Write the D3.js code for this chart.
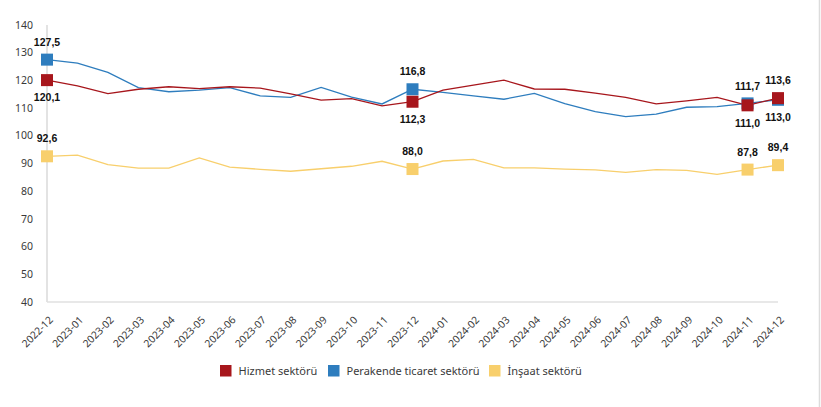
<!DOCTYPE html>
<html><head><meta charset="utf-8">
<script src="https://cdn.jsdelivr.net/npm/d3@7"></script>
<style>body{margin:0;background:#fff;}svg{display:block;}</style>
</head><body>
<svg id="c" width="821" height="407"></svg>
<script>
const months = ["2022-12","2023-01","2023-02","2023-03","2023-04","2023-05","2023-06","2023-07","2023-08","2023-09","2023-10","2023-11","2023-12","2024-01","2024-02","2024-03","2024-04","2024-05","2024-06","2024-07","2024-08","2024-09","2024-10","2024-11","2024-12"];
const hizmet = [120.1,118.0,115.2,116.8,117.7,117.0,117.7,117.2,115.1,112.9,113.4,110.8,112.3,116.5,118.3,120.1,116.9,116.8,115.4,113.9,111.5,112.6,113.9,111.0,113.6];
const perakende = [127.5,126.2,122.9,117.4,115.9,116.5,117.4,114.4,113.9,117.5,114.0,111.5,116.8,115.7,114.4,113.2,115.3,111.6,108.7,106.9,107.8,110.3,110.5,111.7,113.0];
const insaat = [92.6,93.0,89.6,88.3,88.3,92.0,88.7,87.9,87.2,88.1,89.0,90.8,88.0,90.9,91.5,88.4,88.4,88.0,87.7,86.8,87.8,87.5,86.1,87.8,89.4];
const yTicks = [40,50,60,70,80,90,100,110,120,130,140];
const seriesNames = ["Hizmet sektörü","Perakende ticaret sektörü","İnşaat sektörü"];
const colors = ["#A7161C","#2E7DBE","#F8CF6C"];
const markerIdx = [0,12,23,24];
// label placement: +1 above, -1 below
const labelPos = {
  0:{0:-1,12:-1,23:-1,24:1},
  1:{0:1,12:1,23:1,24:-1},
  2:{0:1,12:1,23:1,24:1}
};

const svg = d3.select("#c");
const x = d3.scalePoint().domain(d3.range(months.length)).range([47,778]);
const y = d3.scaleLinear().domain([40,140]).range([302,25]);
const fmt = v => v.toFixed(1).replace(".",",");

// right border
svg.append("line").attr("x1",819.5).attr("x2",819.5).attr("y1",0).attr("y2",407).attr("stroke","#dcdcdc").attr("stroke-width",1.5);

// axes lines
svg.append("line").attr("x1",x(0)).attr("x2",x(0)).attr("y1",y(140)).attr("y2",y(40)).attr("stroke","#e3e3e3").attr("stroke-width",2);
svg.append("line").attr("x1",x(0)).attr("x2",x(months.length-1)).attr("y1",y(40)).attr("y2",y(40)).attr("stroke","#e0e0e0").attr("stroke-width",1.5);

// y tick labels
svg.append("g").selectAll("text").data(yTicks).join("text")
  .attr("x",33).attr("y",d=>y(d)).attr("dy","0.35em").attr("text-anchor","end")
  .attr("font-family","Noto Sans, sans-serif").attr("font-size",10.5).attr("fill","#3a3a3a").text(d=>d);

// x tick labels
svg.append("g").selectAll("text").data(months).join("text")
  .attr("transform",(d,i)=>`translate(${x(i)+4},${y(40)+16}) rotate(-45)`)
  .attr("text-anchor","end").attr("dy","0.35em")
  .attr("font-family","Noto Sans, sans-serif").attr("font-size",10.3).attr("fill","#3a3a3a").text(d=>d);

const data = [hizmet, perakende, insaat];
const line = d3.line().x((d,i)=>x(i)).y(d=>y(d));
// lines
[2,1,0].forEach(s=>{
  svg.append("path").datum(data[s]).attr("d",line).attr("fill","none").attr("stroke",colors[s]).attr("stroke-width",1.3);
});
// markers
const ms = 12;
[2,1,0].forEach(s=>{
  svg.append("g").selectAll("rect").data(markerIdx).join("rect")
    .attr("x",i=>x(i)-ms/2).attr("y",i=>y(data[s][i])-ms/2).attr("width",ms).attr("height",ms)
    .attr("fill",colors[s]);
});
// labels
[0,1,2].forEach(s=>{
  svg.append("g").selectAll("text").data(markerIdx).join("text")
    .attr("x",i=>x(i)).attr("y",i=>y(data[s][i]) - labelPos[s][i]*17.5).attr("dy","0.35em")
    .attr("text-anchor","middle").attr("font-family","Liberation Sans, Arial, sans-serif")
    .attr("font-weight","bold").attr("font-size",10.5).attr("fill","#111").text(i=>fmt(data[s][i]));
});

// legend
const legX = [220,328,489];
const lg = svg.append("g");
seriesNames.forEach((n,s)=>{
  lg.append("rect").attr("x",legX[s]).attr("y",365).attr("width",11.5).attr("height",11.5).attr("fill",colors[s]);
  lg.append("text").attr("x",legX[s]+18.5).attr("y",370.8).attr("dy","0.35em")
    .attr("font-family","Noto Sans, sans-serif").attr("font-size",11).attr("fill","#3a3a3a").text(n);
});
</script>
</body></html>
